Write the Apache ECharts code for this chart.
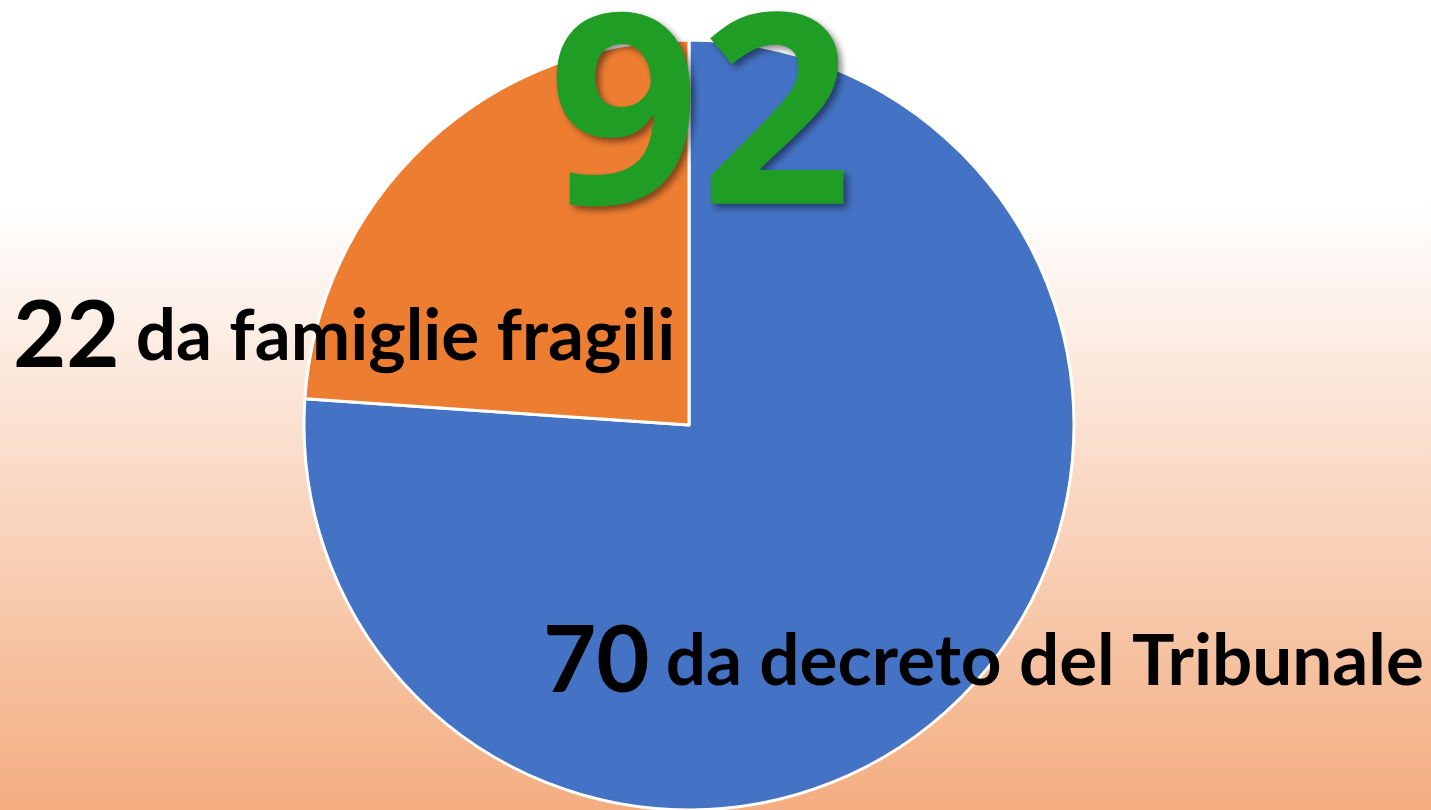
<!DOCTYPE html>
<html>
<head>
<meta charset="utf-8">
<script src="https://cdn.jsdelivr.net/npm/echarts@6/dist/echarts.min.js"></script>
<style>
  html, body { margin: 0; padding: 0; }
  #chart { width: 1431px; height: 810px; }
</style>
</head>
<body>
<div id="chart"></div>
<script>
var categories = ['da decreto del Tribunale', 'da famiglie fragili'];
var values = [70, 22];
var total = 92;

var chart = echarts.init(document.getElementById('chart'));

// label positions, one per slice
var labelPos = [
    { x: 543, y: 708 },
    { x: 13, y: 383 }
];

chart.setOption({
    backgroundColor: {
        type: 'linear', x: 0, y: 0, x2: 0, y2: 1,
        colorStops: [
            { offset: 0, color: '#ffffff' },
            { offset: 0.25, color: '#ffffff' },
            { offset: 1, color: '#F3AD80' }
        ]
    },
    title: {
        text: String(total),
        left: 543,
        top: -10,
        textStyle: {
            fontFamily: 'Open Sans',
            fontSize: 266,
            fontWeight: 'bold',
            color: '#1F9D24',
            textShadowColor: 'rgba(0,0,0,0.45)',
            textShadowBlur: 6,
            textShadowOffsetX: 4,
            textShadowOffsetY: 4
        }
    },
    series: [{
        type: 'pie',
        center: [689, 425],
        radius: 385,
        startAngle: 90,
        clockwise: true,
        color: ['#4472C4', '#ED7D31'],
        itemStyle: { borderColor: '#ffffff', borderWidth: 3 },
        emphasis: { disabled: true },
        data: categories.map((c, i) => ({ name: c, value: values[i] })),
        label: {
            show: true,
            overflow: 'none',
            formatter: p => '{num|' + p.value + '}{txt|' + p.name + '}',
            rich: {
                num: { fontFamily: 'Lato', fontSize: 92, fontWeight: 'bold', color: '#000', padding: [0, 16, 0, 0] },
                txt: { fontFamily: 'Lato', fontSize: 71, fontWeight: 'bold', color: '#000' }
            }
        },
        labelLine: { show: false },
        labelLayout: params => ({
            x: labelPos[params.dataIndex].x,
            y: labelPos[params.dataIndex].y,
            align: 'left',
            verticalAlign: 'bottom'
        })
    }]
});
</script>
</body>
</html>
